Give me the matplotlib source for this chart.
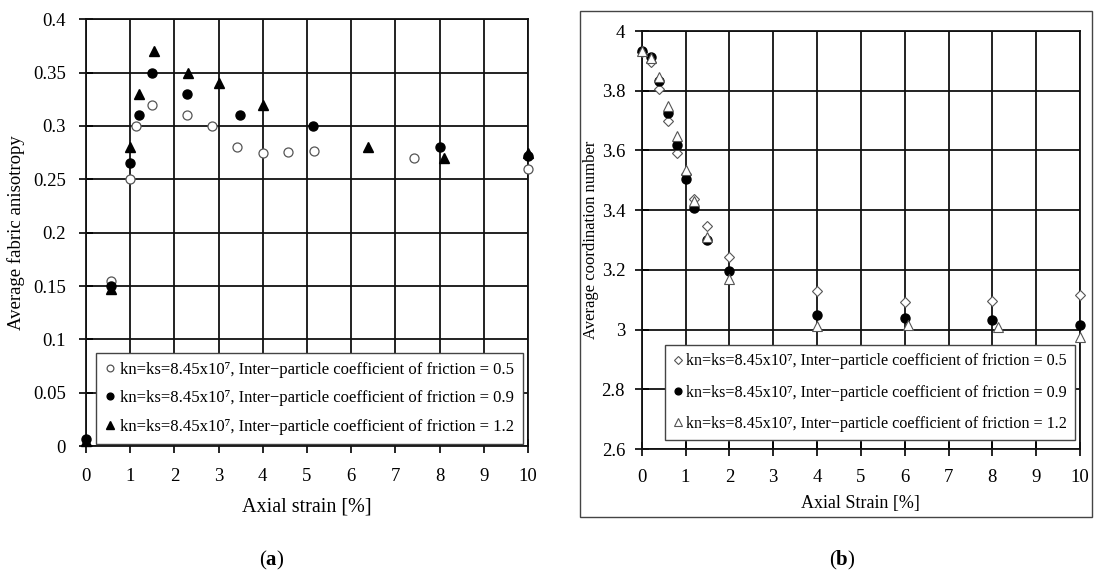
import matplotlib
matplotlib.use("Agg")
import matplotlib.pyplot as plt
from matplotlib.patches import Rectangle
from matplotlib.ticker import FuncFormatter

plt.rcParams["font.family"] = ["Liberation Serif", "DejaVu Serif"]
plt.rcParams["mathtext.fontset"] = "custom"
plt.rcParams["mathtext.rm"] = "Liberation Serif"
plt.rcParams["mathtext.bf"] = "Liberation Serif:bold"

# (a) average fabric anisotropy vs axial strain
A_MU05_X = [0.57, 1.0, 1.13, 1.5, 2.28, 2.86, 3.42, 4.0, 4.58, 5.15, 7.42, 10.0]
A_MU05_Y = [0.155, 0.25, 0.30, 0.32, 0.31, 0.30, 0.28, 0.275, 0.276, 0.277, 0.27, 0.26]
A_MU09_X = [0.0, 0.57, 1.0, 1.2, 1.5, 2.28, 3.49, 5.13, 8.0, 10.0]
A_MU09_Y = [0.007, 0.15, 0.265, 0.31, 0.35, 0.33, 0.31, 0.30, 0.28, 0.272]
A_MU12_X = [0.0, 0.57, 1.0, 1.2, 1.55, 2.3, 3.0, 4.0, 6.37, 8.1, 10.0]
A_MU12_Y = [0.005, 0.147, 0.28, 0.33, 0.37, 0.35, 0.34, 0.32, 0.28, 0.27, 0.275]

# (b) average coordination number vs axial strain
B_X = [0.0, 0.2, 0.4, 0.6, 0.8, 1.0, 1.2, 1.5, 2.0, 4.0, 6.0, 8.0, 10.0]
B_MU05_Y = [3.93, 3.898, 3.807, 3.698, 3.592, 3.52, 3.438, 3.346, 3.242, 3.13, 3.091, 3.095, 3.115]
B_MU09_Y = [3.934, 3.912, 3.833, 3.724, 3.618, 3.505, 3.408, 3.30, 3.195, 3.049, 3.038, 3.031, 3.014]
B_MU12_X = [0.0, 0.2, 0.4, 0.6, 0.8, 1.0, 1.2, 1.5, 2.0, 4.0, 6.08, 8.13, 10.0]
B_MU12_Y = [3.932, 3.91, 3.847, 3.749, 3.649, 3.533, 3.43, 3.31, 3.168, 3.013, 3.017, 3.008, 2.974]

MU_VALUES = ["0.5", "0.9", "1.2"]
LABEL = "kn=ks=8.45x10\u2077, Inter\u2212particle coefficient of friction = {}"

fig = plt.figure(figsize=(10.94, 5.75), dpi=100)
ax_a = fig.add_axes([0.0786, 0.2243, 0.404, 0.7421])
ax_b = fig.add_axes([0.5866, 0.219, 0.4006, 0.727])

fig.add_artist(Rectangle((0.5306, 0.1009), 0.4674, 0.8801, transform=fig.transFigure,
                         fill=False, edgecolor="#444444", linewidth=1.0))


def style_axes(ax, ymin, ymax, ystep, fontsize, xpad, ypad):
    ax.set_xlim(0, 10)
    ax.set_ylim(ymin, ymax)
    ax.set_xticks(range(0, 11))
    n = int(round((ymax - ymin) / ystep))
    ax.set_yticks([ymin + i * ystep for i in range(n + 1)])
    ax.yaxis.set_major_formatter(FuncFormatter(lambda v, _: f"{round(v, 3):g}"))
    ax.grid(True, color="#111111", linewidth=1.3)
    ax.set_axisbelow(True)
    for side in ax.spines.values():
        side.set_color("#111111")
        side.set_linewidth(1.3)
    ax.tick_params(direction="inout", length=10, width=1.2, labelsize=fontsize)
    ax.tick_params(axis="x", pad=xpad)
    ax.tick_params(axis="y", pad=ypad)


style_axes(ax_a, 0.0, 0.4, 0.05, 13.5, 11, 9.5)
ax_a.plot(A_MU05_X, A_MU05_Y, "o", ms=6.5, mfc="white", mec="#555555", mew=0.9,
          label=LABEL.format(MU_VALUES[0]), zorder=3, clip_on=False)
ax_a.plot(A_MU09_X, A_MU09_Y, "o", ms=6.5, color="black",
          label=LABEL.format(MU_VALUES[1]), zorder=3, clip_on=False)
ax_a.plot(A_MU12_X, A_MU12_Y, "^", ms=7, color="black",
          label=LABEL.format(MU_VALUES[2]), zorder=3, clip_on=False)
ax_a.set_xlabel("Axial strain [%]", fontsize=14.5, labelpad=9)
ax_a.set_ylabel("Average fabric anisotropy", fontsize=13.5, labelpad=6)
leg = ax_a.legend(loc="lower right", bbox_to_anchor=(0.989, 0.005), borderaxespad=0,
                  fontsize=12, handlelength=0.6, handletextpad=0.3, labelspacing=0.75,
                  markerscale=0.75, fancybox=False, framealpha=1, edgecolor="#444444",
                  borderpad=0.55)
leg.get_frame().set_linewidth(1.0)
leg.set_zorder(5)

style_axes(ax_b, 2.6, 4.0, 0.2, 13.5, 9.5, 7)
ax_b.plot(B_X, B_MU05_Y, "D", ms=5.2, mfc="white", mec="#555555", mew=0.8,
          label=LABEL.format(MU_VALUES[0]), zorder=3, clip_on=False)
ax_b.plot(B_X, B_MU09_Y, "o", ms=6.5, color="black",
          label=LABEL.format(MU_VALUES[1]), zorder=3, clip_on=False)
ax_b.plot(B_MU12_X, B_MU12_Y, "^", ms=7, mfc="white", mec="#555555", mew=0.8,
          label=LABEL.format(MU_VALUES[2]), zorder=3, clip_on=False)
ax_b.set_xlabel("Axial Strain [%]", fontsize=13, labelpad=6)
ax_b.set_ylabel("Average coordination number", fontsize=12, labelpad=2)
leg = ax_b.legend(loc="lower right", bbox_to_anchor=(0.9886, 0.0215), borderaxespad=0,
                  fontsize=11.6, handlelength=0.6, handletextpad=0.2, labelspacing=0.95,
                  markerscale=0.75, fancybox=False, framealpha=1, edgecolor="#444444",
                  borderpad=0.5)
leg.get_frame().set_linewidth(1.0)
leg.set_zorder(5)

fig.text(272 / 1094, 1 - 560 / 575, r"($\mathbf{a}$)", fontsize=15, ha="center", va="center")
fig.text(842 / 1094, 1 - 560 / 575, r"($\mathbf{b}$)", fontsize=15, ha="center", va="center")

fig.savefig("out.png", dpi=100, facecolor="white")
